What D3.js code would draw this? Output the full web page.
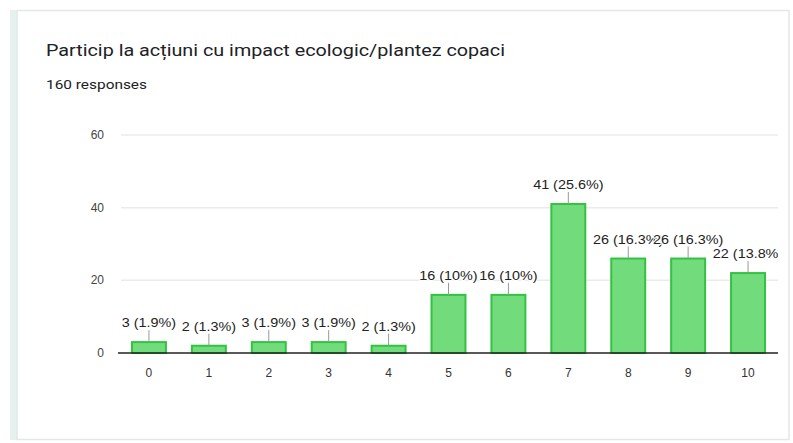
<!DOCTYPE html>
<html><head><meta charset="utf-8">
<script src="https://cdn.jsdelivr.net/npm/d3@7"></script>
<style>body{margin:0;background:#fff}svg{display:block}</style>
</head><body>
<svg id="c" width="793" height="443"></svg>
<script>
const categories = ["0","1","2","3","4","5","6","7","8","9","10"];
const counts = [3,2,3,3,2,16,16,41,26,26,22];
const percents = ["1.9%","1.3%","1.9%","1.9%","1.3%","10%","10%","25.6%","16.3%","16.3%","13.8%"];
const yTicks = [0,20,40,60];
const title = "Particip la acțiuni cu impact ecologic/plantez copaci";
const subtitle = "160 responses";

const svg = d3.select("#c");
// card
svg.append("rect").attr("x",10).attr("y",10).attr("width",7).attr("height",430).attr("fill","#e4f1ee");
svg.append("rect").attr("x",17).attr("y",10.5).attr("width",772).attr("height",429).attr("fill","#fff")
  .attr("stroke","#e2e7ee").attr("stroke-width",1.5);

const tt = svg.append("text").attr("x",46).attr("y",56).attr("font-family","Roboto, 'Open Sans', sans-serif")
  .attr("font-size",16.5).attr("fill","#202124").text(title);
tt.attr("textLength",459).attr("lengthAdjust","spacingAndGlyphs");
svg.append("text").attr("x",46).attr("y",89).attr("font-family","Roboto, sans-serif")
  .attr("font-size",12.5).attr("fill","#202124").text(subtitle)
  .attr("textLength",101).attr("lengthAdjust","spacingAndGlyphs");

const x = d3.scaleBand().domain(categories).range([119,778]).paddingInner(0.4).paddingOuter(0.2);
const y = d3.scaleLinear().domain([0,60]).range([353,135]);

// grid
svg.append("g").selectAll("line").data(yTicks.filter(d=>d>0)).join("line")
  .attr("x1",121).attr("x2",778).attr("y1",d=>y(d)).attr("y2",d=>y(d))
  .attr("stroke","#ebebeb").attr("stroke-width",1.5);
// y labels
svg.append("g").selectAll("text").data(yTicks).join("text")
  .attr("x",104).attr("y",d=>y(d)+4).attr("text-anchor","end")
  .attr("font-family","'Liberation Sans', Arial, sans-serif").attr("font-size",12).attr("fill","#444")
  .text(d=>d);

const data = categories.map((c,i)=>({c,v:counts[i],p:percents[i]}));
// bars
svg.append("g").selectAll("rect").data(data).join("rect")
  .attr("x",d=>x(d.c)+1).attr("y",d=>y(d.v)).attr("width",x.bandwidth()-2).attr("height",d=>y(0)-y(d.v))
  .attr("fill","#72dc7d").attr("stroke","#33c242").attr("stroke-width",2);
// axis line
svg.append("line").attr("x1",118).attr("x2",778).attr("y1",y(0)).attr("y2",y(0)).attr("stroke","#222").attr("stroke-width",1.5);
// x labels
svg.append("g").selectAll("text").data(categories).join("text")
  .attr("x",d=>x(d)+x.bandwidth()/2).attr("y",377).attr("text-anchor","middle")
  .attr("font-family","'Liberation Sans', Arial, sans-serif").attr("font-size",12).attr("fill","#333")
  .text(d=>d);

// annotations
svg.append("defs").append("clipPath").attr("id","clip").append("rect").attr("x",0).attr("y",0).attr("width",778).attr("height",443);
const ann = svg.append("g").attr("clip-path","url(#clip)");
ann.selectAll("line").data(data).join("line")
  .attr("x1",d=>x(d.c)+x.bandwidth()/2).attr("x2",d=>x(d.c)+x.bandwidth()/2)
  .attr("y1",d=>y(d.v)).attr("y2",d=>y(d.v)-12).attr("stroke","#999").attr("stroke-width",1);
const labs = ann.selectAll("text").data(data).join("text")
  .attr("x",d=>x(d.c)+x.bandwidth()/2).attr("y",d=>y(d.v)-15).attr("text-anchor","middle")
  .attr("font-family","'Liberation Sans', Arial, sans-serif").attr("font-size",12.5).attr("fill","#222")
  .attr("stroke","#fff").attr("stroke-width",2).attr("paint-order","stroke")
  .text(d=>`${d.v} (${d.p})`);
labs.each(function(){ const w=this.getComputedTextLength(); d3.select(this).attr("textLength",w*1.15).attr("lengthAdjust","spacingAndGlyphs"); });
</script>
</body></html>
